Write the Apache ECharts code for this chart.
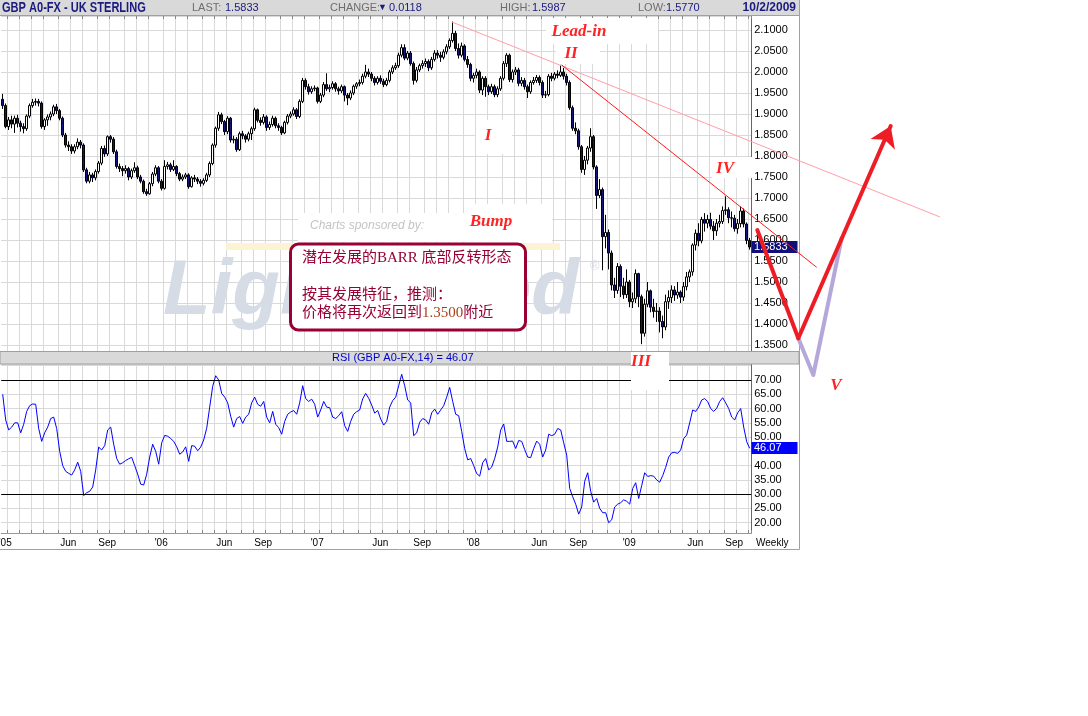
<!DOCTYPE html>
<html><head><meta charset="utf-8">
<script src="https://cdn.jsdelivr.net/npm/echarts@6/dist/echarts.min.js"></script>
<style>html,body{margin:0;padding:0;background:#fff}#c{width:1088px;height:716px}</style>
</head><body><div id="c"></div>
<script>
// ---------- data (weekly bars, first bar = week ending 2004-12-24) ----------
const firstWeek = [2004, 11, 24];
const opens = [1.935,1.920,1.870,1.886,1.876,1.890,1.878,1.870,1.865,1.895,
1.920,1.928,1.930,1.926,1.870,1.886,1.893,1.900,1.917,1.908,
1.890,1.850,1.826,1.822,1.812,1.822,1.833,1.826,1.767,1.740,
1.755,1.748,1.763,1.783,1.818,1.805,1.846,1.840,1.810,1.775,
1.770,1.765,1.770,1.750,1.765,1.772,1.750,1.740,1.715,1.710,
1.734,1.757,1.772,1.740,1.723,1.775,1.779,1.768,1.775,1.758,
1.745,1.750,1.755,1.727,1.748,1.745,1.740,1.735,1.742,1.755,
1.782,1.826,1.866,1.898,1.882,1.858,1.890,1.838,1.840,1.815,
1.853,1.848,1.840,1.853,1.865,1.910,1.885,1.880,1.893,1.868,
1.875,1.890,1.872,1.868,1.855,1.880,1.895,1.900,1.910,1.894,
1.930,1.980,1.965,1.953,1.960,1.962,1.930,1.945,1.970,1.960,
1.963,1.972,1.960,1.955,1.965,1.945,1.938,1.950,1.966,1.972,
1.975,1.990,2.000,1.995,1.985,1.975,1.985,1.978,1.970,1.980,
2.000,2.010,2.015,2.040,2.058,2.033,2.045,2.020,1.980,2.005,
2.015,2.020,2.025,2.010,2.030,2.045,2.040,2.035,2.048,2.060,
2.075,2.092,2.056,2.040,2.062,2.030,2.018,1.985,1.992,2.000,
1.957,1.985,1.965,1.953,1.965,1.946,1.960,1.985,2.020,2.040,
1.982,2.000,2.005,1.973,1.980,1.965,1.953,1.975,1.980,1.987,
1.975,1.945,1.946,1.990,1.985,1.995,1.992,2.000,1.990,1.975,
1.915,1.866,1.860,1.822,1.768,1.790,1.819,1.846,1.774,1.706,
1.720,1.608,1.618,1.569,1.493,1.480,1.537,1.490,1.470,1.500,
1.453,1.460,1.520,1.465,1.378,1.447,1.479,1.440,1.430,1.431,
1.406,1.393,1.453,1.463,1.481,1.469,1.476,1.464,1.489,1.512,
1.524,1.588,1.616,1.598,1.649,1.640,1.649,1.633,1.622,1.640,
1.644,1.670,1.672,1.653,1.652,1.627,1.639,1.669,1.638,1.599];
const closes = [1.920,1.870,1.886,1.876,1.890,1.878,1.870,1.865,1.895,1.920,
1.928,1.930,1.926,1.870,1.886,1.893,1.900,1.917,1.908,1.890,
1.850,1.826,1.822,1.812,1.822,1.833,1.826,1.767,1.740,1.755,
1.748,1.763,1.783,1.818,1.805,1.846,1.840,1.810,1.775,1.770,
1.765,1.770,1.750,1.765,1.772,1.750,1.740,1.715,1.710,1.734,
1.757,1.772,1.740,1.723,1.775,1.779,1.768,1.775,1.758,1.745,
1.750,1.755,1.727,1.748,1.745,1.740,1.735,1.742,1.755,1.782,
1.826,1.866,1.898,1.882,1.858,1.890,1.838,1.840,1.815,1.853,
1.848,1.840,1.853,1.865,1.910,1.885,1.880,1.893,1.868,1.875,
1.890,1.872,1.868,1.855,1.880,1.895,1.900,1.910,1.894,1.930,
1.980,1.965,1.953,1.960,1.962,1.930,1.945,1.970,1.960,1.963,
1.972,1.960,1.955,1.965,1.945,1.938,1.950,1.966,1.972,1.975,
1.990,2.000,1.995,1.985,1.975,1.985,1.978,1.970,1.980,2.000,
2.010,2.015,2.040,2.058,2.033,2.045,2.020,1.980,2.005,2.015,
2.020,2.025,2.010,2.030,2.045,2.040,2.035,2.048,2.060,2.075,
2.092,2.056,2.040,2.062,2.030,2.018,1.985,1.992,2.000,1.957,
1.985,1.965,1.953,1.965,1.946,1.960,1.985,2.020,2.040,1.982,
2.000,2.005,1.973,1.980,1.965,1.953,1.975,1.980,1.987,1.975,
1.945,1.946,1.990,1.985,1.995,1.992,2.000,1.990,1.975,1.915,
1.866,1.860,1.822,1.768,1.790,1.819,1.846,1.774,1.706,1.720,
1.608,1.618,1.569,1.493,1.480,1.537,1.490,1.470,1.500,1.453,
1.460,1.520,1.465,1.378,1.447,1.479,1.440,1.430,1.431,1.406,
1.393,1.453,1.463,1.481,1.469,1.476,1.464,1.489,1.512,1.524,
1.588,1.616,1.598,1.649,1.640,1.649,1.633,1.622,1.640,1.644,
1.670,1.672,1.653,1.652,1.627,1.639,1.669,1.638,1.599,1.5833];
const highs = [1.948,1.925,1.893,1.896,1.896,1.898,1.884,1.878,1.899,1.925,
1.936,1.937,1.936,1.930,1.890,1.899,1.906,1.922,1.924,1.912,
1.894,1.855,1.835,1.828,1.828,1.842,1.838,1.830,1.772,1.762,
1.760,1.768,1.788,1.824,1.825,1.849,1.850,1.845,1.815,1.782,
1.776,1.778,1.774,1.770,1.785,1.777,1.755,1.744,1.722,1.738,
1.762,1.778,1.776,1.745,1.790,1.786,1.784,1.790,1.778,1.762,
1.756,1.760,1.759,1.752,1.755,1.750,1.745,1.747,1.760,1.787,
1.830,1.870,1.905,1.903,1.886,1.895,1.893,1.848,1.845,1.858,
1.860,1.852,1.858,1.870,1.915,1.913,1.892,1.900,1.897,1.882,
1.896,1.894,1.878,1.872,1.884,1.900,1.906,1.916,1.914,1.935,
1.986,1.985,1.972,1.966,1.968,1.965,1.950,1.976,1.997,1.970,
1.978,1.976,1.965,1.970,1.968,1.950,1.956,1.970,1.976,1.982,
1.996,2.017,2.008,2.000,1.990,1.990,1.992,1.984,1.986,2.005,
2.016,2.022,2.046,2.066,2.066,2.050,2.050,2.025,2.012,2.020,
2.028,2.032,2.030,2.036,2.052,2.052,2.048,2.054,2.066,2.080,
2.120,2.098,2.068,2.070,2.066,2.038,2.022,1.998,2.008,2.004,
1.990,1.990,1.970,1.972,1.970,1.966,1.990,2.026,2.045,2.044,
2.006,2.012,2.010,1.988,1.986,1.970,1.980,1.988,1.993,1.992,
1.980,1.955,1.995,1.998,2.000,2.004,2.017,2.010,1.996,1.980,
1.920,1.880,1.865,1.826,1.800,1.824,1.866,1.850,1.778,1.745,
1.725,1.660,1.625,1.575,1.510,1.545,1.542,1.510,1.530,1.505,
1.475,1.530,1.522,1.470,1.460,1.500,1.482,1.460,1.450,1.440,
1.420,1.470,1.480,1.492,1.490,1.500,1.480,1.500,1.524,1.530,
1.592,1.625,1.640,1.655,1.664,1.660,1.665,1.645,1.650,1.660,
1.680,1.704,1.678,1.668,1.660,1.650,1.680,1.675,1.642,1.605];
const lows = [1.912,1.866,1.862,1.866,1.855,1.868,1.858,1.854,1.860,1.890,
1.915,1.920,1.918,1.865,1.862,1.872,1.885,1.895,1.900,1.885,
1.845,1.820,1.812,1.805,1.806,1.816,1.818,1.762,1.735,1.735,
1.738,1.742,1.758,1.778,1.798,1.800,1.832,1.805,1.770,1.762,
1.752,1.758,1.742,1.745,1.760,1.745,1.735,1.710,1.705,1.708,
1.728,1.752,1.735,1.718,1.720,1.768,1.762,1.764,1.752,1.740,
1.740,1.745,1.722,1.725,1.738,1.733,1.727,1.730,1.738,1.750,
1.778,1.820,1.860,1.876,1.850,1.852,1.832,1.830,1.810,1.812,
1.840,1.832,1.835,1.838,1.860,1.880,1.872,1.875,1.860,1.862,
1.870,1.866,1.860,1.850,1.852,1.875,1.890,1.896,1.888,1.890,
1.926,1.958,1.946,1.948,1.954,1.925,1.926,1.940,1.955,1.952,
1.958,1.953,1.946,1.950,1.930,1.921,1.933,1.945,1.960,1.966,
1.970,1.985,1.988,1.978,1.968,1.970,1.972,1.964,1.966,1.975,
1.995,2.005,2.010,2.035,2.028,2.028,2.015,1.970,1.975,2.000,
2.008,2.012,2.002,2.005,2.025,2.032,2.024,2.030,2.042,2.055,
2.070,2.050,2.032,2.035,2.025,2.010,1.978,1.975,1.985,1.950,
1.945,1.941,1.945,1.948,1.940,1.940,1.955,1.980,2.012,1.976,
1.975,1.993,1.966,1.966,1.958,1.938,1.948,1.970,1.974,1.968,
1.938,1.938,1.942,1.978,1.980,1.985,1.988,1.982,1.968,1.910,
1.860,1.852,1.815,1.760,1.755,1.780,1.810,1.768,1.674,1.700,
1.528,1.580,1.530,1.480,1.462,1.472,1.464,1.460,1.462,1.440,
1.438,1.450,1.440,1.352,1.370,1.440,1.428,1.415,1.405,1.380,
1.366,1.385,1.436,1.450,1.455,1.460,1.450,1.455,1.480,1.500,
1.515,1.575,1.585,1.592,1.620,1.628,1.625,1.600,1.610,1.630,
1.638,1.660,1.640,1.630,1.620,1.615,1.630,1.630,1.590,1.577];
const rsi = [65.0,56.0,52.5,53.5,55.0,55.0,51.5,54.5,59.0,61.0,
61.6,61.5,53.0,48.5,51.5,53.5,56.5,57.0,53.0,45.0,
40.0,38.0,37.3,36.7,38.5,41.2,38.0,29.5,30.5,31.0,
32.5,38.5,46.5,45.5,47.0,52.5,53.5,47.5,42.5,40.5,
41.0,41.8,42.4,42.9,40.0,37.0,33.5,33.2,37.0,43.0,
47.5,45.0,40.5,48.0,50.6,50.3,49.5,48.5,46.6,44.0,
44.8,46.6,41.5,47.0,46.8,45.2,46.5,49.0,53.1,60.5,
67.8,71.5,70.0,65.3,64.0,62.0,57.3,53.5,56.5,57.2,
54.8,57.0,58.0,62.0,64.0,61.5,60.8,62.5,57.0,55.0,
59.0,54.5,53.3,51.0,55.5,58.0,58.8,59.3,58.0,62.0,
68.0,63.5,62.5,63.3,61.5,57.0,59.5,62.5,60.5,60.3,
57.0,56.5,57.5,58.9,54.0,52.0,55.5,58.0,58.9,59.5,
63.4,65.3,63.6,61.2,58.4,59.3,56.3,54.2,55.5,60.5,
62.8,64.0,68.0,72.0,68.0,63.0,62.0,50.5,51.5,55.2,
56.5,56.0,54.5,58.5,59.8,58.0,59.5,61.0,64.0,67.4,
62.5,58.0,57.5,52.0,46.0,42.0,42.5,40.0,37.2,36.3,
41.0,42.5,38.5,39.5,42.5,46.5,52.5,54.6,48.5,48.5,
48.6,46.0,48.8,48.5,45.6,43.0,42.8,46.0,48.6,47.5,
43.0,45.5,51.0,50.5,51.0,53.0,52.5,48.0,43.7,32.0,
29.1,26.5,23.0,25.5,34.5,37.5,31.0,27.2,28.5,25.0,
23.5,23.5,20.0,21.0,25.5,26.5,27.0,28.0,27.5,26.5,
32.0,34.0,28.5,33.0,37.5,36.2,36.5,36.3,35.0,34.2,
36.5,39.4,43.0,44.5,44.6,44.3,45.5,49.5,50.7,55.0,
59.5,59.0,60.5,63.0,63.5,62.4,60.0,59.0,60.1,62.5,
63.8,62.0,60.0,57.0,56.0,58.5,60.0,53.5,48.4,46.07];
const rsiLevels = [70, 30];
const headerQuote = {symbol:'GBP A0-FX - UK STERLING', last:'1.5833', change:'0.0118', high:'1.5987', low:'1.5770', date:'10/2/2009'};
// annotation lines: [week index, price]
const trendOuter = [[149.77, 2.119], [312.43, 1.6548]];
const trendInner = [[186.33, 2.0167], [271.33, 1.535]];
const projDown = [[251.53, 1.6238], [265.2, 1.366]];
const projUp = [[265.2, 1.366], [296.0, 1.8714]];
const projAlt = [[265.2, 1.366], [270.2, 1.2786], [279.67, 1.6048]];

// ---------- chart ----------
const SANS = '"Liberation Sans", Arial, sans-serif';
const SERIF = '"Liberation Serif", "Times New Roman", serif';
const CJK = '"Liberation Serif", "Noto Sans CJK SC", serif';
const WEEK = 7 * 86400000;
const t0 = Date.UTC(firstWeek[0], firstWeek[1], firstWeek[2]);
const dates = closes.map((_, i) => new Date(t0 + i * WEEK).toISOString().slice(0, 10));
const monthStart = (i) => i > 0 && dates[i].slice(5, 7) !== dates[i - 1].slice(5, 7);
const labelFor = (i) => {
  if (!monthStart(i)) return '';
  const m = dates[i].slice(5, 7);
  if (m === '01') return "'" + dates[i].slice(2, 4);
  if (m === '06') return 'Jun';
  if (m === '09') return 'Sep';
  return '';
};
const tickFn = (idx) => monthStart(idx);
const labelFn = (idx) => labelFor(idx) !== '';

const chart = echarts.init(document.getElementById('c'), null, {renderer: 'canvas'});
const grey = '#d9d9d9';
const option = {
  animation: false,
  backgroundColor: '#ffffff',
  grid: [
    {left: 1.2, top: 16, width: 750, height: 335, containLabel: false, outerBoundsMode: 'none'},
    {left: 1.2, top: 364, width: 750, height: 169, containLabel: false, outerBoundsMode: 'none'},
    {left: 0, top: 0, width: 1088, height: 716, containLabel: false, outerBoundsMode: 'none'}
  ],
  xAxis: [
    {type: 'category', gridIndex: 0, data: dates, position: 'top', boundaryGap: true,
     axisLine: {show: false}, axisLabel: {show: false},
     axisTick: {show: true, inside: true, length: 3, interval: tickFn, lineStyle: {color: '#888'}},
     splitLine: {show: true, interval: tickFn, lineStyle: {color: grey, width: 1}}},
    {type: 'category', gridIndex: 1, data: dates, boundaryGap: true,
     axisLine: {show: true, lineStyle: {color: '#999'}},
     axisTick: {show: true, inside: true, length: 3, interval: tickFn, lineStyle: {color: '#888'}},
     axisLabel: {show: true, interval: labelFn, formatter: (v, i) => labelFor(i), margin: 5,
                 fontSize: 10, color: '#000', fontFamily: SANS, padding: [0, 7, 0, 0]},
     splitLine: {show: true, interval: tickFn, lineStyle: {color: grey, width: 1}}},
    {type: 'value', gridIndex: 2, min: -0.9, max: 361.767, show: false}
  ],
  yAxis: [
    {type: 'value', gridIndex: 0, position: 'right', min: 1.335714, max: 2.133333,
     minInterval: 0.05, maxInterval: 0.05, splitNumber: 16, scale: true,
     axisLine: {show: true, lineStyle: {color: '#666'}}, axisTick: {show: false},
     axisLabel: {margin: 3, color: '#000', fontSize: 11, fontFamily: SANS,
       formatter: (v) => (Math.abs(v * 20 - Math.round(v * 20)) < 1e-6 && v < 2.12 && v > 1.34) ? v.toFixed(4) : ''},
     splitLine: {show: true, lineStyle: {color: grey, width: 1}}},
    {type: 'value', gridIndex: 1, position: 'right', min: 16.39, max: 75.61,
     minInterval: 5, maxInterval: 5, splitNumber: 12, scale: true,
     axisLine: {show: true, lineStyle: {color: '#666'}}, axisTick: {show: false},
     axisLabel: {margin: 3, color: '#000', fontSize: 11, fontFamily: SANS,
       formatter: (v) => (Math.abs(v / 5 - Math.round(v / 5)) < 1e-6 && v >= 19.9 && v <= 70.1) ? v.toFixed(2) : ''},
     splitLine: {show: true, lineStyle: {color: grey, width: 1}}},
    {type: 'value', gridIndex: 2, min: 0.466667, max: 2.171429, show: false}
  ],
  series: [
    {type: 'candlestick', xAxisIndex: 0, yAxisIndex: 0, silent: true, z: 2, barWidth: 2,
     data: dates.map((_, i) => [opens[i], closes[i], lows[i], highs[i]]),
     itemStyle: {color: '#ffffff', color0: '#14147a', borderColor: '#000000', borderColor0: '#000000', borderWidth: 1}},
    {type: 'line', xAxisIndex: 1, yAxisIndex: 1, silent: true, z: 3, data: rsi, showSymbol: false, symbol: 'none',
     lineStyle: {color: '#0000ff', width: 1}, itemStyle: {color: '#0000ff'},
     markLine: {silent: true, symbol: 'none', label: {show: false}, animation: false,
       lineStyle: {color: '#000', type: 'solid', width: 1},
       data: rsiLevels.map((v) => ({yAxis: v}))}},
    {type: 'lines', coordinateSystem: 'cartesian2d', xAxisIndex: 2, yAxisIndex: 2, silent: true, z: 10,
     data: [{coords: trendOuter}], lineStyle: {color: '#ff9ea6', width: 1, opacity: 1}},
    {type: 'lines', coordinateSystem: 'cartesian2d', xAxisIndex: 2, yAxisIndex: 2, silent: true, z: 10,
     data: [{coords: trendInner}], lineStyle: {color: '#ff1a1a', width: 1, opacity: 1}},
    {type: 'lines', coordinateSystem: 'cartesian2d', xAxisIndex: 2, yAxisIndex: 2, silent: true, z: 10,
     polyline: true, data: [{coords: projAlt}], lineStyle: {color: '#b4a8da', width: 4, opacity: 1, cap: 'round', join: 'round'}},
    {type: 'lines', coordinateSystem: 'cartesian2d', xAxisIndex: 2, yAxisIndex: 2, silent: true, z: 11,
     data: [{coords: projDown}], lineStyle: {color: '#ee1c24', width: 4, opacity: 1, cap: 'round'}},
    {type: 'lines', coordinateSystem: 'cartesian2d', xAxisIndex: 2, yAxisIndex: 2, silent: true, z: 11,
     symbol: ['none', 'arrow'], symbolSize: [8, 20],
     data: [{coords: projUp}], lineStyle: {color: '#ee1c24', width: 4, opacity: 1, cap: 'round'}}
  ]
};
chart.setOption(option);

const lastP = closes[closes.length - 1];
const lastR = rsi[rsi.length - 1];
const py = Math.round(chart.convertToPixel({yAxisIndex: 0}, lastP));
const ry = Math.round(chart.convertToPixel({yAxisIndex: 1}, lastR));

const navy = '#1a1a80', hgrey = '#6e6e6e', red = '#ff2424', maroon = '#990033';
const txt = (id, x, y, text, o) => Object.assign({type: 'text', id, x, y, silent: true, z: 7,
  style: Object.assign({text, fill: '#000', fontSize: 11, fontFamily: SANS, verticalAlign: 'middle', align: 'left'}, o && o.style)}, o && o.el);
const rect = (id, x, y, w, h, style, z, r) => ({type: 'rect', id, silent: true, z,
  shape: {x, y, width: w, height: h, r: r || 0}, style});
const redLbl = (id, x, y, text) => txt(id, x, y, text, {el: {z: 9}, style: {fill: red, fontSize: 17, fontFamily: SERIF, fontWeight: 'bold', fontStyle: 'italic', align: 'center'}});

const elements = [
  // watermark
  rect('wm0', 226, 243, 334, 7, {fill: '#fbf3d2'}, 1),
  txt('wm1', 163, 292, 'Lightspeed', {el: {z: 1}, style: {fill: '#d6dce6', fontSize: 78, fontWeight: 'bold', fontStyle: 'italic', verticalAlign: 'middle'}}),
  txt('wm2', 590, 266, '®', {el: {z: 1}, style: {fill: '#d6dce6', fontSize: 13}}),
  rect('sp0', 298, 213, 250, 29, {fill: '#ffffff'}, 1),
  txt('sp1', 310, 226, 'Charts sponsored by:', {el: {z: 1}, style: {fill: '#c4c4c4', fontSize: 12, fontStyle: 'italic'}}),
  // header
  rect('hdr', 0, 0, 799, 15, {fill: '#d9d9d9'}, 6),
  {type: 'line', id: 'hdrb', silent: true, z: 6, shape: {x1: 0, y1: 15.5, x2: 799, y2: 15.5}, style: {stroke: '#a0a0a0', lineWidth: 1}},
  txt('h1', 2, 8, headerQuote.symbol, {el: {scaleX: 0.79}, style: {fill: navy, fontSize: 14, fontWeight: 'bold'}}),
  txt('h2', 192, 8, 'LAST:', {style: {fill: hgrey}}),
  txt('h3', 225, 8, headerQuote.last, {style: {fill: navy}}),
  txt('h4', 330, 8, 'CHANGE:', {style: {fill: hgrey}}),
  txt('h5', 378, 8, '▼', {style: {fill: navy, fontSize: 9}}),
  txt('h6', 389, 8, headerQuote.change, {style: {fill: navy}}),
  txt('h7', 500, 8, 'HIGH:', {style: {fill: hgrey}}),
  txt('h8', 532, 8, headerQuote.high, {style: {fill: navy}}),
  txt('h9', 638, 8, 'LOW:', {style: {fill: hgrey}}),
  txt('h10', 666, 8, headerQuote.low, {style: {fill: navy}}),
  txt('h11', 796, 8, headerQuote.date, {style: {fill: navy, fontSize: 12, fontWeight: 'bold', align: 'right'}}),
  // RSI header
  rect('rh', 0, 351.5, 799, 12.5, {fill: '#d9d9d9', stroke: '#a0a0a0', lineWidth: 1}, 6),
  txt('rht', 332, 358, 'RSI (GBP A0-FX,14) = ' + lastR.toFixed(2), {style: {fill: '#0000cc'}}),
  // frame
  {type: 'line', id: 'frR', silent: true, z: 3, shape: {x1: 799.5, y1: 0, x2: 799.5, y2: 549.5}, style: {stroke: '#a0a0a0', lineWidth: 1}},
  {type: 'line', id: 'frB', silent: true, z: 3, shape: {x1: 0, y1: 549.5, x2: 799.5, y2: 549.5}, style: {stroke: '#a0a0a0', lineWidth: 1}},
  txt('wk', 756, 543, 'Weekly', {style: {fontSize: 10}}),
  // last value tags
  rect('tagP', 751.5, py - 6, 46, 12, {fill: '#10107a'}, 5),
  txt('tagPt', 754, py, lastP.toFixed(4), {el: {z: 5}, style: {fill: '#ffffff'}}),
  rect('tagR', 751.5, ry - 6, 46, 12, {fill: '#0000ff'}, 5),
  txt('tagRt', 754, ry, lastR.toFixed(2), {el: {z: 5}, style: {fill: '#ffffff'}}),
  // white label boxes
  rect('b1', 546, 18, 112, 26, {fill: '#ffffff'}, 8),
  rect('b2', 556, 44, 44, 20, {fill: '#ffffff'}, 8),
  rect('b3', 476, 120, 36, 34, {fill: '#ffffff'}, 8),
  rect('b4', 712, 157, 42, 21, {fill: '#ffffff'}, 8),
  rect('b5', 466, 204, 86, 39, {fill: '#ffffff'}, 8),
  rect('b6', 631, 352, 38, 38, {fill: '#ffffff'}, 8),
  redLbl('l1', 579, 32, 'Lead-in'),
  redLbl('l2', 571, 54, 'II'),
  redLbl('l3', 488, 136, 'I'),
  redLbl('l4', 725, 169, 'IV'),
  redLbl('l5', 491, 222, 'Bump'),
  redLbl('l6', 641, 362, 'III'),
  redLbl('l7', 836, 386, 'V'),
  // explanation box
  rect('eb', 290.5, 244, 235, 86, {fill: '#ffffff', stroke: maroon, lineWidth: 3}, 8, 8),
  txt('e1', 302, 258, '潜在发展的BARR 底部反转形态', {el: {z: 9}, style: {fill: maroon, fontSize: 15, fontFamily: CJK}}),
  txt('e2', 302, 295, '按其发展特征，推测：', {el: {z: 9}, style: {fill: maroon, fontSize: 15, fontFamily: CJK}}),
  txt('e3', 302, 313, '{a|价格将再次返回到}{b|1.3500}{a|附近}', {el: {z: 9}, style: {fill: maroon, fontSize: 15, fontFamily: CJK,
    rich: {a: {fill: maroon, fontSize: 15, fontFamily: CJK}, b: {fill: '#a8401a', fontSize: 15, fontFamily: CJK}}}})
];
chart.setOption({graphic: {elements}});
</script>
</body></html>
